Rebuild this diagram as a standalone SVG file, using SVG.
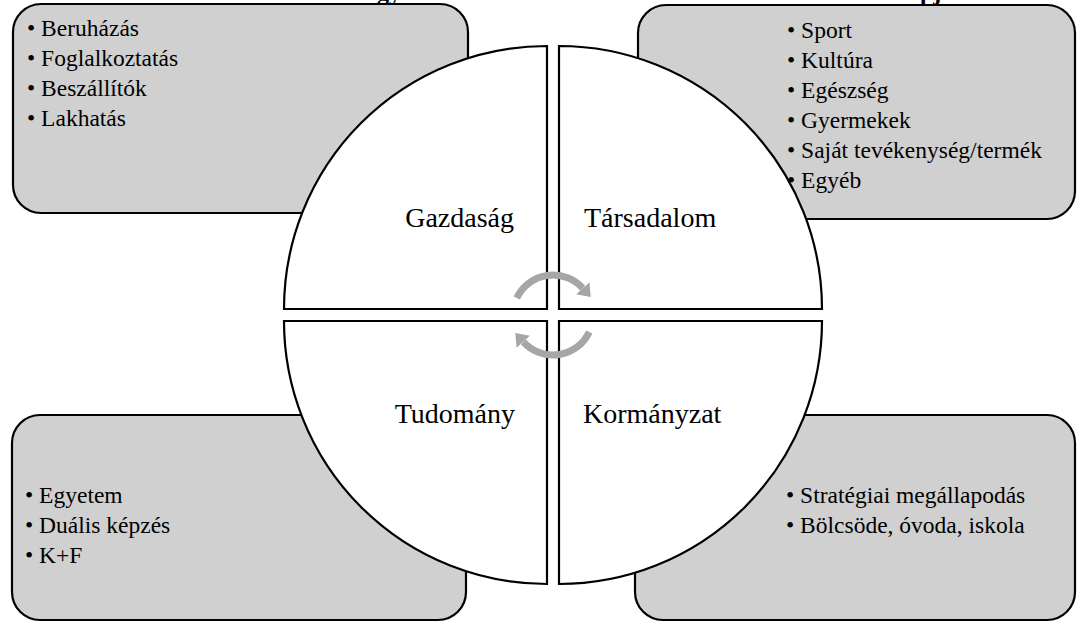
<svg xmlns="http://www.w3.org/2000/svg" width="1078" height="622" viewBox="0 0 1078 622">
<style>
.box{fill:#d0d0d0;stroke:#000;stroke-width:2.2}
.q{fill:#fff;stroke:#000;stroke-width:2.2}
.arc{fill:none;stroke:#a6a6a6;stroke-width:7}
text{font-family:'Liberation Serif',serif !important}
</style>
<defs>
<marker id="ah" markerUnits="userSpaceOnUse" viewBox="0 0 12 18" refX="0" refY="9" markerWidth="12" markerHeight="18" orient="auto">
<path d="M0,0 L12,9 L0,18 Z" fill="#a6a6a6"/>
</marker>
</defs>
<rect width="1078" height="622" fill="#fff"/>
<text x="377" y="0" style="font-family:'Liberation Serif' !important;font-size:24px;font-weight:bold">gy</text>
<text x="920" y="0" style="font-family:'Liberation Serif' !important;font-size:24px;font-weight:bold">pj</text>
<g id="box-tl">
<rect class="box" x="13" y="4" width="455" height="209" rx="28"/>
<text x="27" y="36" style="font-family:'Liberation Serif' !important;font-size:23.5px">• Beruházás</text>
<text x="27" y="66" style="font-family:'Liberation Serif' !important;font-size:23.5px">• Foglalkoztatás</text>
<text x="27" y="96" style="font-family:'Liberation Serif' !important;font-size:23.5px">• Beszállítók</text>
<text x="27" y="126" style="font-family:'Liberation Serif' !important;font-size:23.5px">• Lakhatás</text>
</g>
<g id="box-tr">
<rect class="box" x="638" y="5" width="437" height="214" rx="28"/>
<text x="787" y="38" style="font-family:'Liberation Serif' !important;font-size:23.5px">• Sport</text>
<text x="787" y="68" style="font-family:'Liberation Serif' !important;font-size:23.5px">• Kultúra</text>
<text x="787" y="98" style="font-family:'Liberation Serif' !important;font-size:23.5px">• Egészség</text>
<text x="787" y="128" style="font-family:'Liberation Serif' !important;font-size:23.5px">• Gyermekek</text>
<text x="787" y="158" style="font-family:'Liberation Serif' !important;font-size:23.5px">• Saját tevékenység/termék</text>
<text x="787" y="188" style="font-family:'Liberation Serif' !important;font-size:23.5px">• Egyéb</text>
</g>
<g id="box-bl">
<rect class="box" x="12" y="415" width="454" height="205" rx="28"/>
<text x="25" y="503" style="font-family:'Liberation Serif' !important;font-size:23.5px">• Egyetem</text>
<text x="25" y="533" style="font-family:'Liberation Serif' !important;font-size:23.5px">• Duális képzés</text>
<text x="25" y="563" style="font-family:'Liberation Serif' !important;font-size:23.5px">• K+F</text>
</g>
<g id="box-br">
<rect class="box" x="635" y="415" width="440" height="205" rx="28"/>
<text x="786" y="503" style="font-family:'Liberation Serif' !important;font-size:23.5px">• Stratégiai megállapodás</text>
<text x="786" y="533" style="font-family:'Liberation Serif' !important;font-size:23.5px">• Bölcsöde, óvoda, iskola</text>
</g>
<g id="q-gazdasag">
<path class="q" d="M547,309 H284 A263,263 0 0 1 547,46 Z"/>
<text x="514" y="227" text-anchor="end" style="font-family:'Liberation Serif' !important;font-size:28px">Gazdaság</text>
</g>
<g id="q-tarsadalom">
<path class="q" d="M559,309 V46 A263,263 0 0 1 822,309 Z"/>
<text x="584" y="227" style="font-family:'Liberation Serif' !important;font-size:28px">Társadalom</text>
</g>
<g id="q-kormanyzat">
<path class="q" d="M559,321 H822 A263,263 0 0 1 559,584 Z"/>
<text x="583" y="423" style="font-family:'Liberation Serif' !important;font-size:28px">Kormányzat</text>
</g>
<g id="q-tudomany">
<path class="q" d="M547,321 V584 A263,263 0 0 1 284,321 Z"/>
<text x="515" y="423" text-anchor="end" style="font-family:'Liberation Serif' !important;font-size:28px">Tudomány</text>
</g>
<g id="connectors">
<path class="arc" d="M516.75,298.1 A40,40 0 0 1 582.7,288.2" marker-end="url(#ah)"/>
<path class="arc" d="M589.25,331.9 A40,40 0 0 1 523.3,341.8" marker-end="url(#ah)"/>
</g>
</svg>
